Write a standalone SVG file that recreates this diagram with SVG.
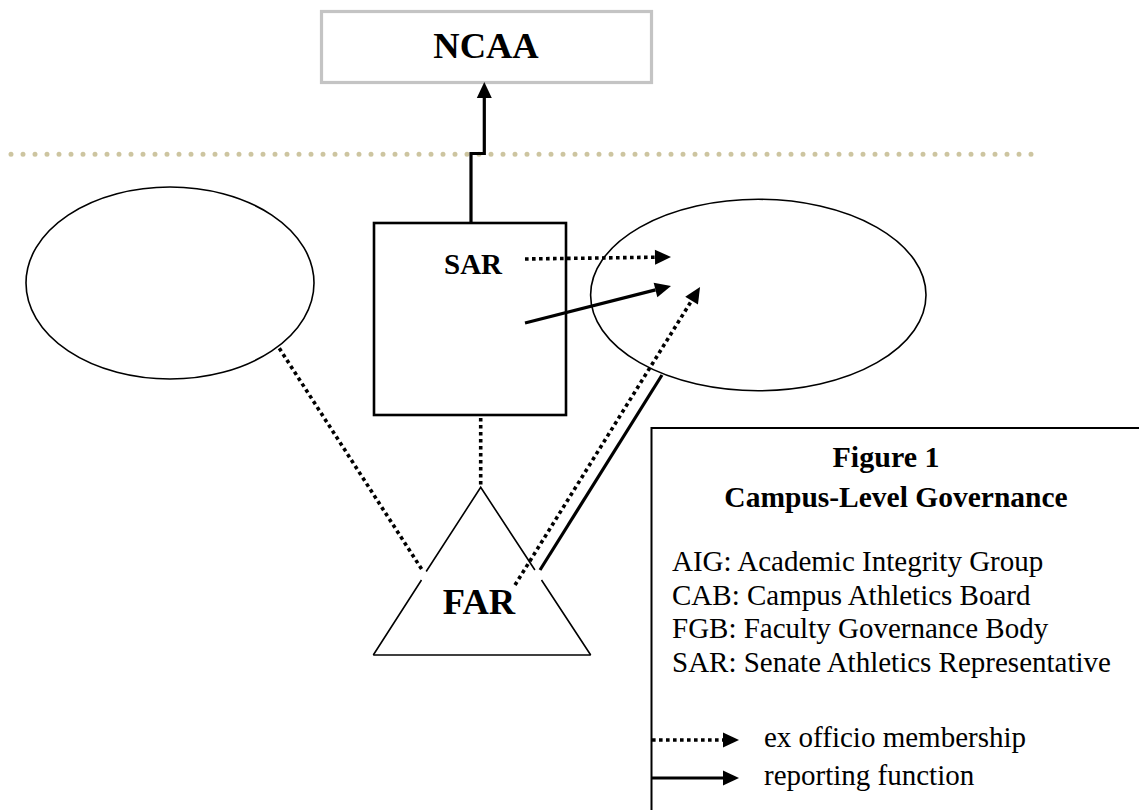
<svg xmlns="http://www.w3.org/2000/svg" width="1139" height="810" viewBox="0 0 1139 810">
<style>
.serif{font-family:"Liberation Serif","Times New Roman",serif;fill:#000}
.b{font-weight:bold}
.thin{fill:none;stroke:#000;stroke-width:1.6}
.solid{fill:none;stroke:#000;stroke-width:3.2}
.dot{fill:none;stroke:#000;stroke-width:3.6;stroke-dasharray:3.6 3.4}
</style>
<defs>
<marker id="ah" markerUnits="userSpaceOnUse" markerWidth="17" markerHeight="15" refX="0" refY="7.5" orient="auto" overflow="visible">
<path d="M0,0 L16,7.5 L0,15 z" fill="#000"/>
</marker>
</defs>
<rect width="1139" height="810" fill="#fff"/>

<line id="divider" x1="11" y1="154.3" x2="1032" y2="154.3" stroke="#cdc5a0" stroke-width="5" stroke-linecap="round" stroke-dasharray="0 12"/>

<g id="ncaa">
<rect x="321.5" y="11.5" width="330" height="71" fill="#fff" stroke="#c4c4c4" stroke-width="3.2"/>
<text class="serif b" x="486" y="58" font-size="36.5" text-anchor="middle">NCAA</text>
</g>

<g id="left-ellipse">
<ellipse cx="170" cy="283" rx="144" ry="96" class="thin"/>
</g>

<g id="cab-ellipse">
<ellipse cx="758.3" cy="295" rx="167.7" ry="95.7" class="thin"/>
</g>

<g id="sar">
<rect x="374" y="223" width="192" height="192" fill="none" stroke="#000" stroke-width="2.6"/>
<text class="serif b" x="444" y="274" font-size="29">SAR</text>
</g>

<g id="far">
<path d="M373.3,655 L421.5,580 M426.2,571.5 L480.7,487.3 L534.9,570 M541.5,580 L590.7,655" class="thin"/>
<path d="M373.3,655 H590.7" class="thin"/>
<text class="serif b" x="479" y="614" font-size="36.5" text-anchor="middle">FAR</text>
</g>

<g id="connectors">
<path d="M471,222 V153.5 H484.3 V98" class="solid" marker-end="url(#ah)"/>
<line x1="525" y1="259" x2="655" y2="257.2" class="dot" marker-end="url(#ah)"/>
<line x1="525" y1="323" x2="655.5" y2="289.9" class="solid" stroke-width="3.8" marker-end="url(#ah)"/>
<line x1="515" y1="585" x2="691.6" y2="300.6" class="dot" marker-end="url(#ah)"/>
<line x1="662" y1="375" x2="540" y2="570" class="solid"/>
<line x1="279.3" y1="348.3" x2="423.3" y2="571.7" class="dot"/>
<line x1="480.7" y1="418" x2="480.7" y2="486" class="dot"/>
</g>

<g id="legend">
<rect x="651.5" y="428" width="500" height="400" fill="#fff" stroke="#000" stroke-width="2"/>
<text class="serif b" x="886" y="467" font-size="30" text-anchor="middle">Figure 1</text>
<text class="serif b" x="896" y="507" font-size="29.5" text-anchor="middle">Campus-Level Governance</text>
<text class="serif" x="672" y="571" font-size="29">AIG: Academic Integrity Group</text>
<text class="serif" x="672" y="605" font-size="29">CAB: Campus Athletics Board</text>
<text class="serif" x="672" y="638" font-size="29">FGB: Faculty Governance Body</text>
<text class="serif" x="672" y="672" font-size="29">SAR: Senate Athletics Representative</text>
<line x1="652" y1="740" x2="723" y2="740" class="dot" marker-end="url(#ah)"/>
<line x1="652" y1="778" x2="723" y2="778" class="solid" marker-end="url(#ah)"/>
<text class="serif" x="764" y="747" font-size="29">ex officio membership</text>
<text class="serif" x="764" y="785" font-size="29">reporting function</text>
</g>
</svg>
